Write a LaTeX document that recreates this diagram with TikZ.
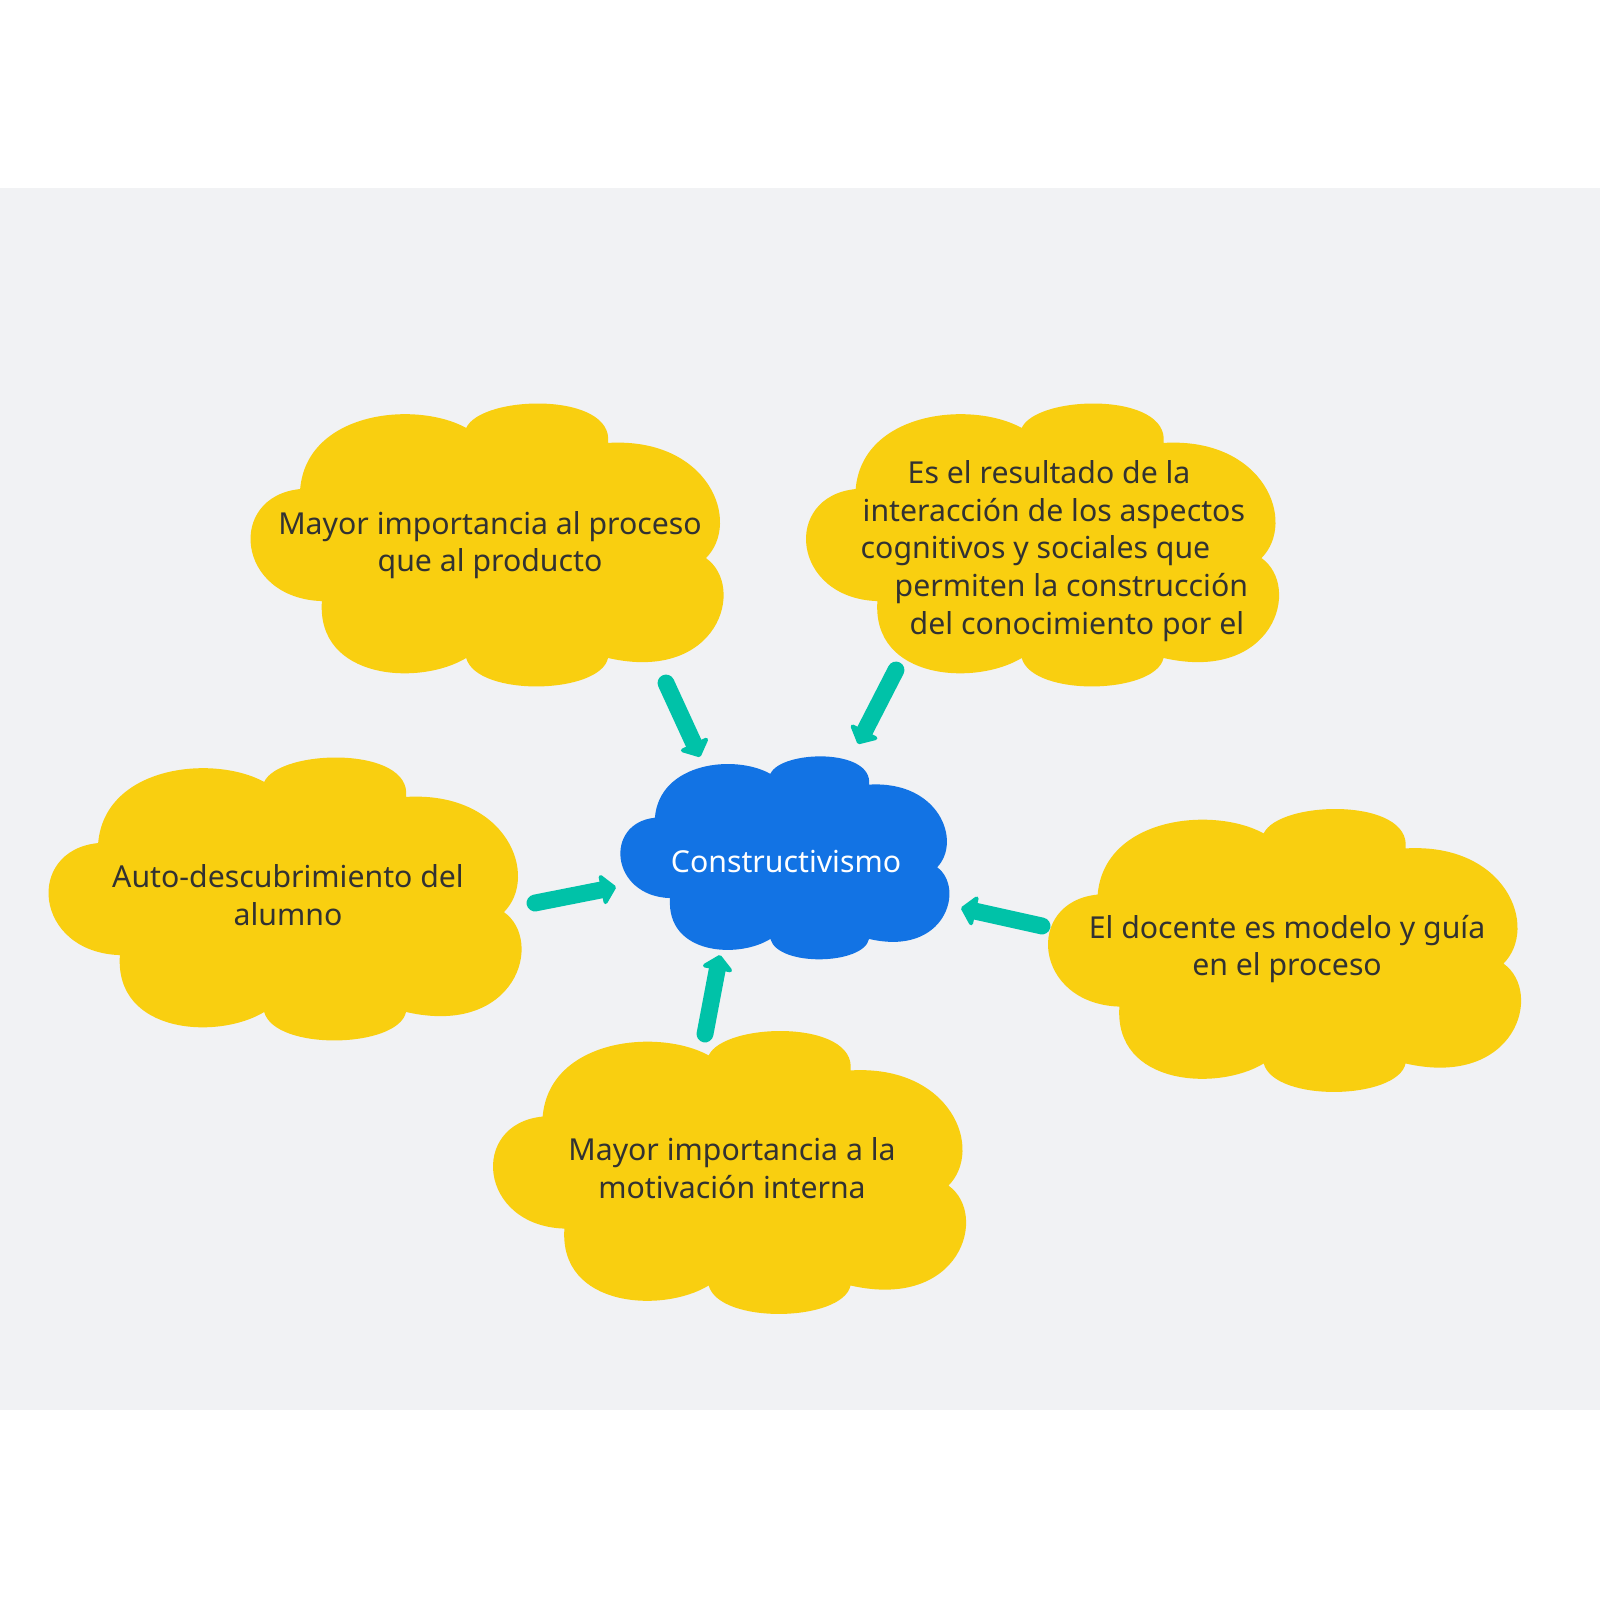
\documentclass[tikz,border=0pt]{standalone}
\usepackage{fontspec}
\setmainfont{Noto Sans}
\usepackage{xcolor}
\usepackage{tikz}
\usetikzlibrary{arrows.meta}

\definecolor{paneGray}{RGB}{241,242,244}
\definecolor{ideaYellow}{RGB}{249,207,16}
\definecolor{hubBlue}{RGB}{18,115,228}
\definecolor{flowTeal}{RGB}{0,194,168}
\definecolor{inkGray}{RGB}{50,50,50}

% cloud outline: #1 colour, #2 centre, #3 width, #4 height
\newcommand{\cloudblob}[4]{%
  \fill[#1, shift={(#2)}, xscale=#3, yscale=#4]
    (-0.394,-0.196) .. controls (-0.38,-0.47) and (-0.15,-0.51) .. (-0.043,-0.412)
    .. controls (-0.01,-0.53) and (0.27,-0.54) .. (0.257,-0.359)
    .. controls (0.47,-0.38) and (0.54,-0.08) .. (0.464,0.048)
    .. controls (0.55,0.15) and (0.49,0.49) .. (0.257,0.401)
    .. controls (0.24,0.53) and (-0.02,0.54) .. (-0.043,0.401)
    .. controls (-0.14,0.50) and (-0.36,0.48) .. (-0.348,0.200)
    .. controls (-0.53,0.19) and (-0.55,-0.17) .. (-0.394,-0.196) -- cycle;}

\begin{document}
\begin{tikzpicture}[x=0.01cm, y=-0.01cm,
    idea/.style={inner sep=0pt, align=center, text=inkGray,
      font=\fontsize{8.6}{10.7}\selectfont},
    hub/.style={inner sep=0pt, text=white, font=\fontsize{8.6}{10.7}\selectfont},
    flow/.style={draw=flowTeal, line width=4.8pt, line cap=round,
      -{Triangle[round, length=4.5pt, width=10pt]}}]
\useasboundingbox (0,0) rectangle (1600,1600);
\fill[white] (0,0) rectangle (1600,1600);
\fill[paneGray] (0,188) rectangle (1600,1410);

% clouds
\cloudblob{ideaYellow}{486.5,544.5}{473}{283}
\cloudblob{ideaYellow}{1042,544.5}{473}{283}
\cloudblob{ideaYellow}{284.5,898.5}{473}{283}
\cloudblob{ideaYellow}{1284,950}{473}{283}
\cloudblob{ideaYellow}{729,1172}{473}{283}
\cloudblob{hubBlue}{784.5,857.5}{329}{203}

% texts
\node[hub] (hub) at (786,861) {Constructivismo};
\node[idea] (idea_proceso) at (490,545) {Mayor importancia al proceso\\que al producto};
\node[idea, align=left, anchor=west] (idea_interaccion) at (860,551)
  {\hspace*{0.47cm}Es el resultado de la\\
   \hspace*{0.02cm}interacción de los aspectos\\
   cognitivos y sociales que\\
   \hspace*{0.34cm}permiten la construcción\\
   \hspace*{0.49cm}del conocimiento por el};
\node[idea] (idea_alumno) at (288,895) {Auto-descubrimiento del\\alumno};
\node[idea] (idea_docente) at (1287,949) {El docente es modelo y guía\\en el proceso};
\node[idea] (idea_motivacion) at (732,1168) {Mayor importancia a la\\motivación interna};

% arrow ends
\coordinate (tail_proceso) at (666,683);
\coordinate (tip_proceso) at (700,757);
\coordinate (tail_interaccion) at (896,670);
\coordinate (tip_interaccion) at (858,744);
\coordinate (tail_alumno) at (535,903);
\coordinate (tip_alumno) at (616,887);
\coordinate (tail_motivacion) at (705,1034);
\coordinate (tip_motivacion) at (720,955);
\coordinate (tail_docente) at (1042,926);
\coordinate (tip_docente) at (961,908);

\draw[flow] (tail_proceso) -- (tip_proceso);
\draw[flow] (tail_interaccion) -- (tip_interaccion);
\draw[flow] (tail_alumno) -- (tip_alumno);
\draw[flow] (tail_motivacion) -- (tip_motivacion);
\draw[flow] (tail_docente) -- (tip_docente);

\end{tikzpicture}
\end{document}
